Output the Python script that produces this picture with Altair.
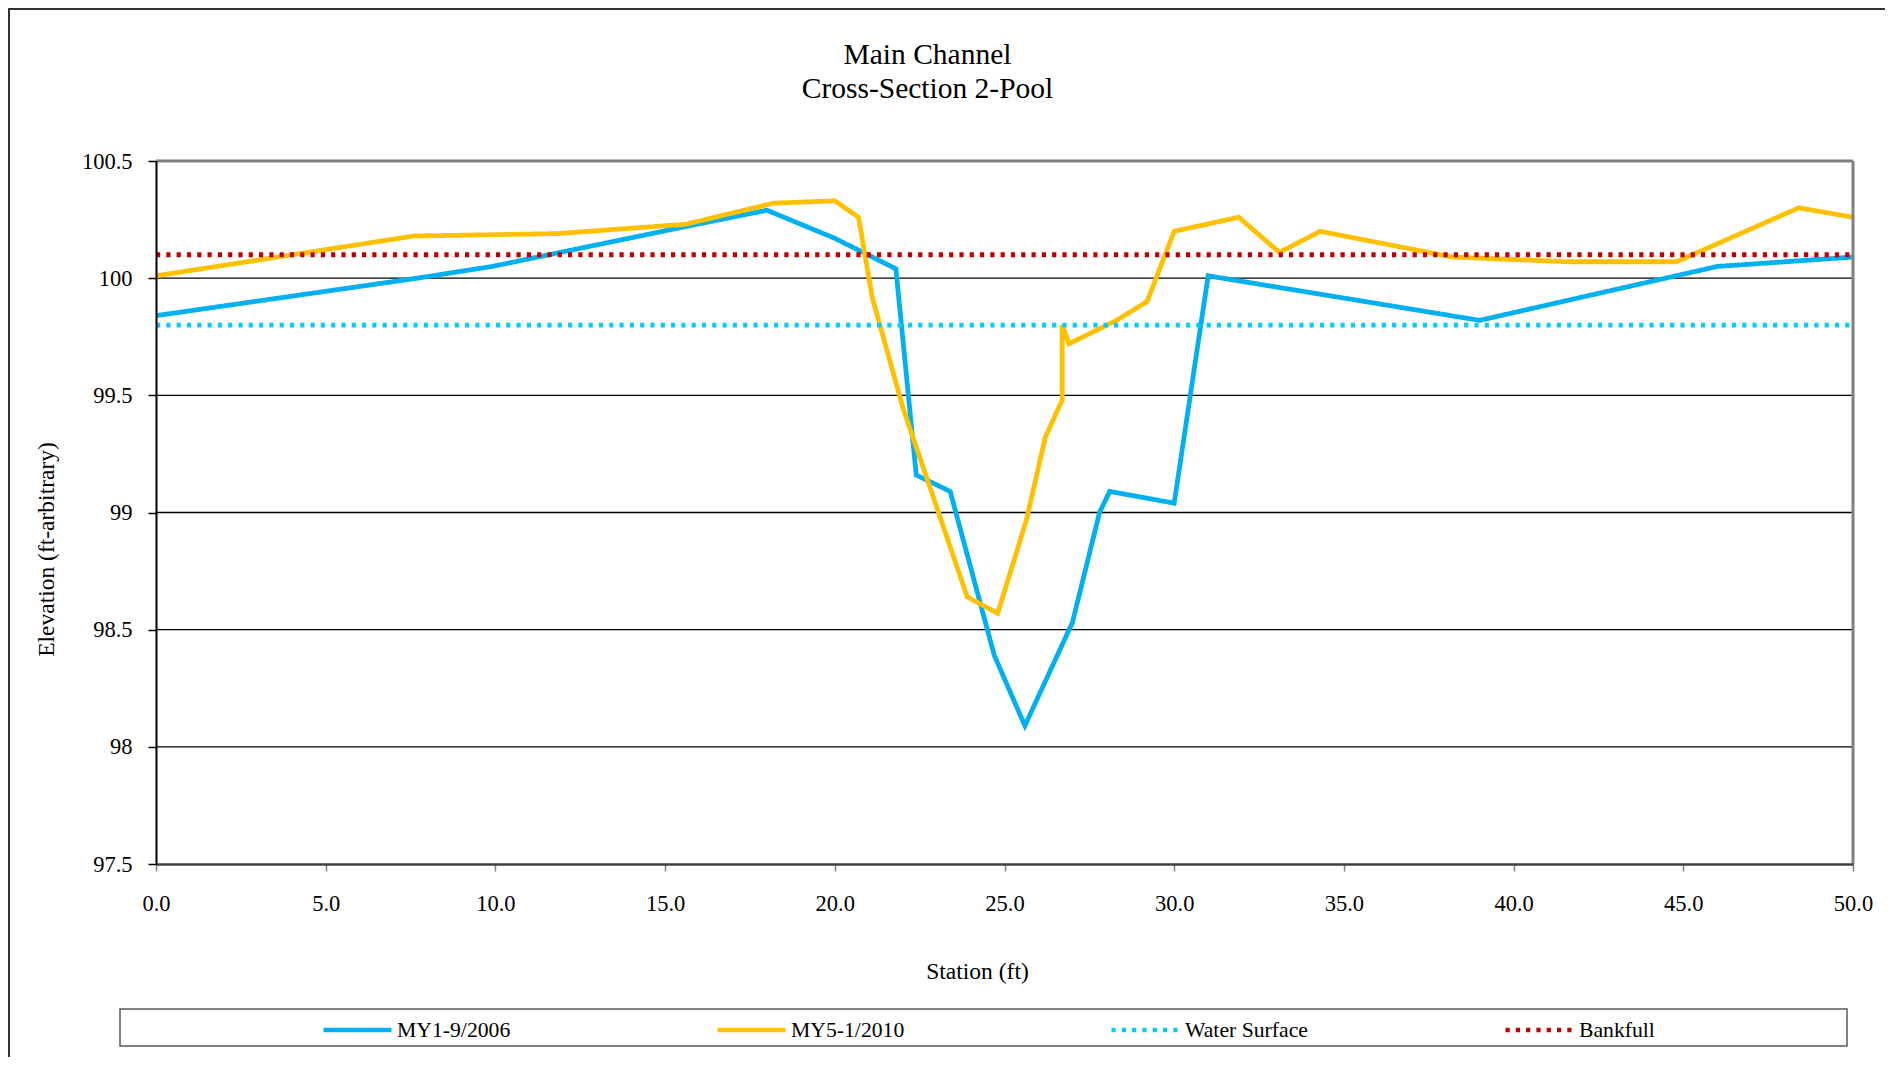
import altair as alt
import pandas as pd

# ---- data ----
station_2006 = [0.0, 7.7, 9.9, 15.6, 18.0, 20.0, 21.8, 22.4, 23.4, 24.7, 25.6, 27.0,
                27.8, 28.1, 30.0, 31.0, 39.0, 46.0, 50.0]
elev_2006 = [99.84, 100.0, 100.05, 100.22, 100.29, 100.17, 100.04, 99.16, 99.09, 98.39,
             98.09, 98.53, 99.0, 99.09, 99.04, 100.01, 99.82, 100.05, 100.09]

station_2010 = [0.0, 7.6, 11.8, 15.6, 18.2, 20.0, 20.7, 21.1, 22.0, 23.9, 24.8, 25.65,
                26.2, 26.7, 26.7, 26.9, 28.3, 29.2, 30.0, 31.9, 33.1, 34.3, 38.2, 41.6,
                44.8, 48.4, 50.0]
elev_2010 = [100.01, 100.18, 100.19, 100.23, 100.32, 100.33, 100.26, 99.92, 99.45, 98.64,
             98.57, 98.97, 99.32, 99.48, 99.80, 99.72, 99.82, 99.90, 100.20, 100.26,
             100.11, 100.20, 100.09, 100.07, 100.07, 100.30, 100.26]

station_flat = [0.0, 50.0]
water_surface = [99.8, 99.8]
bankfull = [100.1, 100.1]

series_names = ["MY1-9/2006", "MY5-1/2010", "Water Surface", "Bankfull"]
series_colors = ["#00B0F0", "#FFC000", "#00CCFF", "#C00000"]

x_ticks = [0.0, 5.0, 10.0, 15.0, 20.0, 25.0, 30.0, 35.0, 40.0, 45.0, 50.0]
y_ticks = [97.5, 98.0, 98.5, 99.0, 99.5, 100.0, 100.5]
grid_values = [98.0, 98.5, 99.0, 99.5, 100.0]

# ---- build table ----
rows = []
for name, xs, ys in [
    (series_names[0], station_2006, elev_2006),
    (series_names[1], station_2010, elev_2010),
    (series_names[2], station_flat, water_surface),
    (series_names[3], station_flat, bankfull),
]:
    for i, (x, y) in enumerate(zip(xs, ys)):
        rows.append({"series": name, "station": x, "elev": y, "idx": i})
df = pd.DataFrame(rows)

FONT = "Liberation Serif"
W, H = 1697, 703

xscale = alt.Scale(domain=[x_ticks[0], x_ticks[-1]], nice=False, zero=False)
yscale = alt.Scale(domain=[y_ticks[0], y_ticks[-1]], nice=False, zero=False)

x_axis = alt.Axis(
    title="Station (ft)",
    values=x_ticks,
    format=".1f",
    grid=False,
    labelFlush=False,
    labelOverlap=False,
    domainColor="#404040",
    domainWidth=2.5,
    tickColor="#808080",
    tickWidth=1.5,
    tickSize=7,
    labelFont=FONT,
    labelFontSize=22.5,
    labelColor="black",
    labelBaseline="middle",
    labelPadding=32,
    titleFont=FONT,
    titleFontSize=23.5,
    titleFontWeight="normal",
    titleColor="black",
    titleBaseline="middle",
    titleX=821,
    titleY=107,
    zindex=1,
)
y_axis = alt.Axis(
    title="Elevation (ft-arbitrary)",
    values=y_ticks,
    labelExpr="'' + datum.value",
    grid=False,
    labelFlush=False,
    labelOverlap=False,
    domainColor="black",
    domainWidth=2,
    tickColor="black",
    tickWidth=1.5,
    tickSize=8,
    labelFont=FONT,
    labelFontSize=22.5,
    labelColor="black",
    labelPadding=16,
    titleFont=FONT,
    titleFontSize=23.5,
    titleFontWeight="normal",
    titleColor="black",
    titleAngle=270,
    titleAlign="center",
    titleBaseline="middle",
    titleX=-110,
    titleY=388,
    zindex=1,
)

grid = alt.Chart(pd.DataFrame({"elev": grid_values})).mark_rule(
    color="black", strokeWidth=1.3
).encode(y=alt.Y("elev:Q", scale=yscale, axis=y_axis))

lines = alt.Chart(df).mark_line(strokeWidth=4.8, strokeCap="butt").encode(
    x=alt.X("station:Q", scale=xscale, axis=x_axis),
    y=alt.Y("elev:Q", scale=yscale, axis=y_axis),
    color=alt.Color(
        "series:N",
        scale=alt.Scale(domain=series_names, range=series_colors),
        legend=alt.Legend(
            title=None,
            orient="none",
            legendX=165,
            legendY=832,
            direction="horizontal",
            columns=4,
            gridAlign="all",
            columnPadding=188,
            symbolType="stroke",
            symbolSize=4624,
            symbolStrokeWidth=4.5,
            labelFont=FONT,
            labelFontSize=21.7,
            labelColor="black",
            labelOffset=3,
            labelLimit=300,
        ),
    ),
    strokeDash=alt.StrokeDash(
        "series:N",
        scale=alt.Scale(domain=series_names,
                        range=[[1, 0], [1, 0], [4.2, 6.1], [4.2, 6.1]]),
        legend=None,
    ),
    order="idx:Q",
    detail="series:N",
)

border_top = alt.Chart(pd.DataFrame({"elev": [y_ticks[-1]]})).mark_rule(
    color="#808080", strokeWidth=3
).encode(y=alt.Y("elev:Q", scale=yscale, axis=y_axis))

border_right = alt.Chart(pd.DataFrame({"station": [x_ticks[-1]]})).mark_rule(
    color="#808080", strokeWidth=3
).encode(x=alt.X("station:Q", scale=xscale, axis=x_axis))

one = pd.DataFrame({"k": [0]})
legend_box = alt.Chart(one).mark_rect(
    fill="white", fillOpacity=0, stroke="#595959", strokeWidth=1.5
).encode(
    x=alt.value(-36), x2=alt.value(1691), y=alt.value(848), y2=alt.value(885)
)
frame_top = alt.Chart(one).mark_rule(color="#333333", strokeWidth=2).encode(
    x=alt.value(-148), x2=alt.value(1729), y=alt.value(-152), y2=alt.value(-152)
)
frame_left = alt.Chart(one).mark_rule(color="#333333", strokeWidth=2).encode(
    x=alt.value(-147), x2=alt.value(-147), y=alt.value(-153), y2=alt.value(896)
)

chart = alt.layer(
    grid, lines, border_top, border_right, legend_box, frame_top, frame_left
).properties(
    width=W,
    height=H,
    padding={"left": 148, "top": 153, "right": 32, "bottom": 193},
    autosize=alt.AutoSizeParams(type="none"),
    title=alt.TitleParams(
        text=["Main Channel", "Cross-Section 2-Pool"],
        font=FONT,
        fontSize=29.5,
        fontWeight="normal",
        color="black",
        lineHeight=34,
        anchor="middle",
        frame="group",
        offset=0,
        dy=97,
        dx=-77,
    ),
).configure_view(stroke=None).configure(background="white")

chart.save("out.html", embed_options={"renderer": "svg", "actions": False})
